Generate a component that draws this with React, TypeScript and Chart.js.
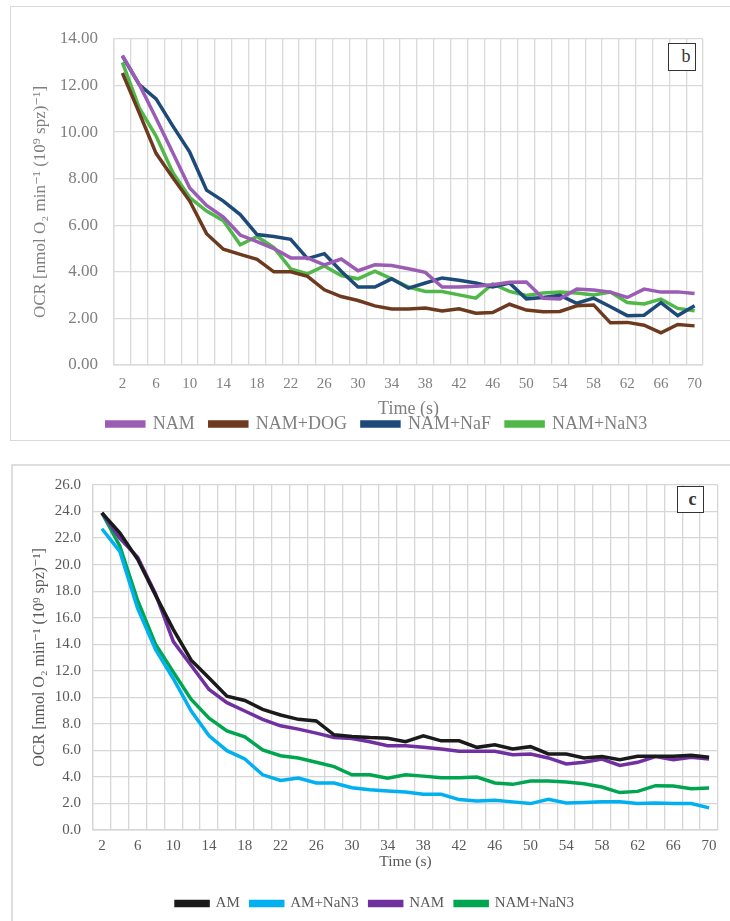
import React, { useEffect, useRef } from 'react';
import { Chart, registerables } from 'chart.js';

Chart.register(...registerables);

// time points (s)
const times = [2, 4, 6, 8, 10, 12, 14, 16, 18, 20, 22, 24, 26, 28, 30, 32, 34, 36, 38, 40, 42, 44, 46, 48, 50, 52, 54, 56, 58, 60, 62, 64, 66, 68, 70];

// panel b
const bNam = [13.3, 12.05, 10.6, 9.1, 7.6, 6.85, 6.35, 5.58, 5.3, 5.0, 4.6, 4.6, 4.3, 4.55, 4.05, 4.3, 4.27, 4.13, 3.98, 3.35, 3.35, 3.38, 3.45, 3.55, 3.56, 2.87, 2.84, 3.26, 3.22, 3.13, 2.9, 3.26, 3.13, 3.14, 3.07];
const bNamDog = [12.54, 10.83, 9.09, 8.04, 7.04, 5.64, 4.97, 4.75, 4.54, 4.0, 4.0, 3.81, 3.23, 2.94, 2.77, 2.54, 2.41, 2.41, 2.45, 2.32, 2.41, 2.22, 2.25, 2.61, 2.36, 2.29, 2.3, 2.54, 2.58, 1.81, 1.83, 1.71, 1.38, 1.74, 1.68];
const bNamNaF = [13.26, 12.04, 11.43, 10.26, 9.14, 7.51, 7.04, 6.46, 5.6, 5.52, 5.4, 4.57, 4.78, 4.03, 3.35, 3.35, 3.7, 3.3, 3.52, 3.74, 3.64, 3.52, 3.35, 3.52, 2.84, 2.9, 2.99, 2.65, 2.87, 2.5, 2.12, 2.14, 2.68, 2.12, 2.54];
const bNamNaN3 = [13.0, 11.04, 9.83, 8.26, 7.19, 6.61, 6.19, 5.16, 5.52, 5.04, 4.13, 3.91, 4.25, 3.84, 3.7, 4.03, 3.7, 3.35, 3.16, 3.16, 3.01, 2.87, 3.48, 3.16, 2.99, 3.09, 3.13, 3.09, 3.01, 3.13, 2.68, 2.62, 2.83, 2.43, 2.33];

// panel c
const cAm = [23.9, 22.4, 20.4, 17.7, 15.1, 12.8, 11.46, 10.09, 9.76, 9.09, 8.67, 8.34, 8.22, 7.17, 7.05, 6.97, 6.92, 6.65, 7.1, 6.72, 6.72, 6.23, 6.43, 6.1, 6.28, 5.73, 5.73, 5.43, 5.53, 5.3, 5.55, 5.55, 5.55, 5.63, 5.48];
const cAmNaN3 = [22.7, 21.0, 16.7, 13.6, 11.4, 8.97, 7.1, 5.98, 5.35, 4.16, 3.74, 3.91, 3.54, 3.54, 3.19, 3.04, 2.94, 2.86, 2.69, 2.69, 2.29, 2.19, 2.24, 2.12, 1.99, 2.32, 2.04, 2.07, 2.12, 2.12, 1.99, 2.04, 1.99, 1.99, 1.67];
const cNam = [23.9, 22.0, 20.55, 17.8, 14.2, 12.4, 10.59, 9.6, 8.97, 8.34, 7.85, 7.6, 7.3, 6.97, 6.9, 6.65, 6.35, 6.35, 6.23, 6.1, 5.93, 5.93, 5.93, 5.68, 5.73, 5.43, 4.98, 5.1, 5.35, 4.86, 5.1, 5.53, 5.3, 5.48, 5.35];
const cNamNaN3 = [23.9, 21.4, 17.3, 14.0, 11.9, 9.84, 8.42, 7.47, 7.02, 6.03, 5.6, 5.43, 5.11, 4.78, 4.16, 4.16, 3.91, 4.16, 4.06, 3.94, 3.94, 3.99, 3.54, 3.44, 3.69, 3.69, 3.61, 3.49, 3.24, 2.82, 2.91, 3.34, 3.31, 3.11, 3.16];

const yTitle = 'OCR [nmol O₂ min⁻¹ (10⁹ spz)⁻¹]';
const serif = "'Liberation Serif', 'DejaVu Serif', serif";

type Series = { label: string; data: number[]; color: string };

type PanelProps = {
  series: Series[];
  yMax: number;
  decimals: number;
  width: number;
  height: number;
  padTop: number;
  yAxisW: number;
  rightW: number;
  xAxisH: number;
  xTickPad: number;
  xTitlePad: number;
  yTickPad: number;
  yTitlePad: number;
  yTickSize: number;
  xTickSize: number;
  titleSize: number;
  yTitleSize: number;
  legendSize: number;
  legendPad: number;
  legendBox: number;
  textColor: string;
  gridColor: string;
};

const PanelChart: React.FC<PanelProps> = (p) => {
  const canvasRef = useRef<HTMLCanvasElement>(null);

  useEffect(() => {
    if (!canvasRef.current) return;
    const chart = new Chart(canvasRef.current, {
      type: 'line',
      data: {
        labels: times.map(String),
        datasets: p.series.map((s) => ({
          label: s.label,
          data: s.data,
          borderColor: s.color,
          backgroundColor: s.color,
          borderWidth: 3.5,
          pointRadius: 0,
          tension: 0,
          fill: false,
        })),
      },
      options: {
        animation: false,
        responsive: true,
        maintainAspectRatio: false,
        layout: { padding: { top: p.padTop, left: 0, right: 0, bottom: 0 } },
        plugins: {
          legend: {
            position: 'bottom',
            labels: {
              boxWidth: p.legendBox,
              boxHeight: 4,
              padding: p.legendPad,
              color: p.textColor,
              font: { family: serif, size: p.legendSize },
            },
          },
          tooltip: { enabled: false },
        },
        scales: {
          x: {
            type: 'category',
            offset: true,
            grid: { offset: true, color: p.gridColor, lineWidth: 1.3, drawTicks: false },
            border: { color: p.gridColor, width: 1.5 },
            ticks: {
              autoSkip: false,
              maxRotation: 0,
              padding: p.xTickPad,
              color: p.textColor,
              font: { family: serif, size: p.xTickSize },
              callback: (_v, i) => (times[i] % 4 === 2 ? String(times[i]) : ''),
            },
            title: {
              display: true,
              text: 'Time (s)',
              color: p.textColor,
              font: { family: serif, size: p.titleSize },
              padding: { top: 0, bottom: p.xTitlePad },
            },
            afterFit: (s) => {
              s.height = p.xAxisH;
            },
          },
          y: {
            min: 0,
            max: p.yMax,
            grid: { color: p.gridColor, lineWidth: 1.3, drawTicks: false },
            border: { color: p.gridColor, width: 1.3 },
            ticks: {
              stepSize: 2,
              padding: p.yTickPad,
              color: p.textColor,
              font: { family: serif, size: p.yTickSize },
              callback: (v) => Number(v).toFixed(p.decimals),
            },
            title: {
              display: true,
              text: yTitle,
              color: p.textColor,
              font: { family: serif, size: p.yTitleSize },
              padding: { top: p.yTitlePad, bottom: 0 },
            },
            afterFit: (s) => {
              s.width = p.yAxisW;
            },
          },
          y2: {
            position: 'right',
            display: true,
            grid: { display: false },
            border: { display: false },
            ticks: { display: false },
            afterFit: (s) => {
              s.width = p.rightW;
            },
          },
        },
      },
    });
    return () => chart.destroy();
  }, []);

  return (
    <div style={{ width: p.width, height: p.height }}>
      <canvas ref={canvasRef}></canvas>
    </div>
  );
};

const tagBox = (left: number, top: number, size: number, text: string, bold: boolean) => (
  <div
    style={{
      position: 'absolute',
      left,
      top,
      width: size,
      height: size,
      boxSizing: 'border-box',
      border: '1.5px solid #333',
      background: '#fff',
      fontFamily: serif,
      fontSize: 18,
      fontWeight: bold ? 'bold' : 'normal',
      color: '#333',
      lineHeight: size - 3 + 'px',
      textAlign: 'center',
      paddingLeft: bold ? 4 : 8,
    }}
  >
    {text}
  </div>
);

export default function App() {
  useEffect(() => {
    document.body.style.margin = '0';
  }, []);

  return (
    <div style={{ position: 'fixed', left: 0, top: 0, width: 730, height: 921, overflow: 'hidden', background: '#fff' }}>
      <div style={{ position: 'absolute', left: 10, top: 6, width: 760, height: 435, boxSizing: 'border-box', border: '1.5px solid #d9d9d9' }} />
      <div style={{ position: 'absolute', left: 10, top: 6 }}>
        <PanelChart
          series={[
            { label: 'NAM', data: bNam, color: '#9a5cb4' },
            { label: 'NAM+DOG', data: bNamDog, color: '#6e3a1f' },
            { label: 'NAM+NaF', data: bNamNaF, color: '#1e4a7a' },
            { label: 'NAM+NaN3', data: bNamNaN3, color: '#50b848' },
          ]}
          yMax={14}
          decimals={2}
          width={734}
          height={437}
          padTop={33}
          yAxisW={104}
          rightW={41}
          xAxisH={35}
          xTickPad={10}
          xTitlePad={-20}
          yTickPad={16}
          yTitlePad={20}
          yTickSize={17}
          xTickSize={15}
          titleSize={18}
          yTitleSize={17}
          legendSize={18}
          legendPad={15}
          legendBox={37}
          textColor="#7f7f7f"
          gridColor="#d9d9d9"
        />
      </div>
      {tagBox(668, 43, 28, 'b', false)}

      <div style={{ position: 'absolute', left: 11, top: 464, width: 760, height: 500, boxSizing: 'border-box', border: '2px solid #dedede' }} />
      <div style={{ position: 'absolute', left: 11, top: 464 }}>
        <PanelChart
          series={[
            { label: 'AM', data: cAm, color: '#1a1a1a' },
            { label: 'AM+NaN3', data: cAmNaN3, color: '#00b0f0' },
            { label: 'NAM', data: cNam, color: '#7030a0' },
            { label: 'NAM+NaN3', data: cNamNaN3, color: '#00a550' },
          ]}
          yMax={26}
          decimals={1}
          width={728}
          height={457}
          padTop={16}
          yAxisW={82}
          rightW={21}
          xAxisH={55}
          xTickPad={7}
          xTitlePad={14}
          yTickPad={12}
          yTitlePad={19}
          yTickSize={15}
          xTickSize={15}
          titleSize={15.5}
          yTitleSize={16}
          legendSize={15}
          legendPad={11}
          legendBox={32}
          textColor="#595959"
          gridColor="#d6d6d6"
        />
      </div>
      {tagBox(677, 486, 27, 'c', true)}
    </div>
  );
}
